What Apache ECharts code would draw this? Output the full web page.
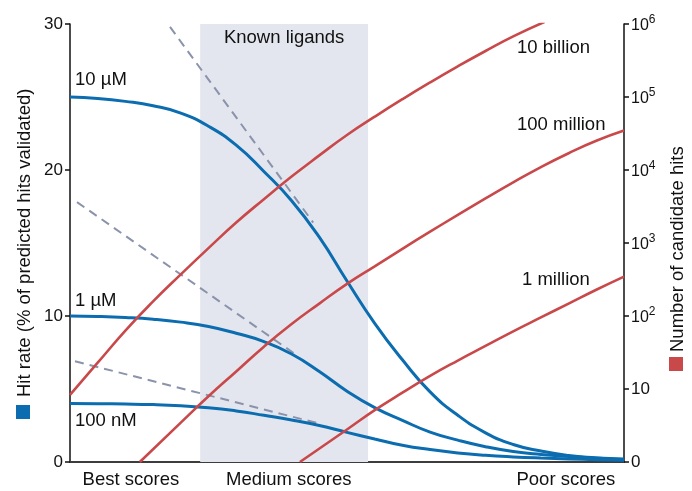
<!DOCTYPE html>
<html>
<head>
<meta charset="utf-8">
<script src="https://cdn.jsdelivr.net/npm/echarts@6/dist/echarts.min.js"></script>
<style>
html, body { margin: 0; padding: 0; background: #fff; }
#chart { width: 692px; height: 491px; }
</style>
</head>
<body>
<div id="chart"></div>
<script>
// Score axis runs from 0 (best scores) to 100 (poor scores)
const scoreTicks = [11, 39.5, 89.5];
const scoreLabels = ['Best scores', 'Medium scores', 'Poor scores'];

// Score band where known ligands fall
const knownLigands = [23.5, 53.8];

// Hit rate (%) sampled every 5 score units, one curve per affinity threshold
const scoreSteps = [0, 5, 10, 15, 20, 25, 30, 35, 40, 45, 50, 55, 60, 65, 70, 75, 80, 85, 90, 95, 100];
const hit10uM = [25.0, 24.9, 24.7, 24.4, 23.9, 23.0, 21.7, 19.9, 17.9, 15.4, 12.4, 9.5, 7.0, 4.8, 3.2, 2.0, 1.2, 0.75, 0.45, 0.28, 0.15];
const hit1uM = [10.0, 9.97, 9.9, 9.78, 9.58, 9.28, 8.82, 8.25, 7.4, 6.2, 4.85, 3.72, 2.85, 2.05, 1.5, 1.05, 0.72, 0.52, 0.38, 0.27, 0.2];
const hit100nM = [4.0, 3.99, 3.97, 3.93, 3.85, 3.72, 3.5, 3.2, 2.88, 2.5, 2.03, 1.58, 1.15, 0.85, 0.62, 0.46, 0.35, 0.27, 0.21, 0.16, 0.12];

// Straight-line extrapolations of the hit-rate curves
const trend10uM = [[18.05, 29.8], [43.9, 16.4]];
const trend1uM = [[1.26, 17.8], [40.6, 7.4]];
const trend100nM = [[0.9, 6.9], [44.6, 2.67]];

// log10(number of candidate hits) for each library size
const lib10B = [[0, 0.92], [5, 1.36], [10, 1.8], [15, 2.2], [20, 2.57], [25, 2.93], [30, 3.28], [35, 3.6],
  [40, 3.91], [45, 4.2], [50, 4.48], [55, 4.73], [60, 4.97], [65, 5.2], [70, 5.42], [75, 5.63], [80, 5.83], [85.7, 6.03]];
const lib100M = [[12.6, 0], [20, 0.54], [25, 0.9], [30, 1.24], [35, 1.58], [40, 1.89], [45, 2.17], [50, 2.44],
  [55, 2.68], [60, 2.92], [65, 3.155], [70, 3.385], [75, 3.61], [80, 3.83], [85, 4.04], [90, 4.23], [95, 4.4], [100, 4.54]];
const lib1M = [[41.5, 0], [50, 0.445], [55, 0.71], [60, 0.95], [65, 1.18], [70, 1.39], [75, 1.59], [80, 1.79],
  [85, 1.98], [90, 2.17], [95, 2.36], [100, 2.54]];

const FONT = '"Liberation Sans", Arial, Helvetica, sans-serif';
const BLUE = '#0b6db0';
const RED = '#c9494b';
const DASH = '#8a93ab';
const INK = '#111';

function hitLine(values) {
  return {
    type: 'line', data: scoreSteps.map((s, i) => [s, values[i]]), symbol: 'none', smooth: 0.5, z: 3,
    lineStyle: { color: BLUE, width: 3 }
  };
}
function trendLine(data) {
  return {
    type: 'line', data, symbol: 'none', z: 2,
    lineStyle: { color: DASH, width: 2, type: [9, 6] }
  };
}
function libLine(data) {
  return {
    type: 'line', yAxisIndex: 1, data, symbol: 'none', smooth: 0.5, z: 4,
    lineStyle: { color: RED, width: 2.6 }
  };
}
function text(x, y, str, extra) {
  return Object.assign({
    type: 'text', x, y, silent: true,
    style: { text: str, fontSize: 18.5, fontFamily: FONT, fill: INK, align: 'left', verticalAlign: 'middle' }
  }, extra || {});
}

const chart = echarts.init(document.getElementById('chart'), null, { renderer: 'canvas' });
chart.setOption({
  animation: false,
  textStyle: { fontFamily: FONT },
  grid: { left: 70, right: 68, top: 24, bottom: 29 },
  xAxis: {
    type: 'value', min: 0, max: 100, interval: 0.5,
    axisLine: { show: true, lineStyle: { color: '#3c3c3c', width: 2 } },
    axisTick: { show: false },
    splitLine: { show: false },
    axisLabel: {
      margin: 8, fontSize: 18.5, color: INK, fontFamily: FONT,
      formatter: v => { const i = scoreTicks.indexOf(v); return i >= 0 ? scoreLabels[i] : ''; }
    }
  },
  yAxis: [{
    type: 'value', min: 0, max: 30, interval: 10, position: 'left',
    axisLine: { show: true, lineStyle: { color: '#111', width: 1.5 } },
    axisTick: { show: true, length: 5, lineStyle: { color: '#111', width: 1.5 } },
    splitLine: { show: false },
    axisLabel: { margin: 7, fontSize: 17, color: INK, fontFamily: FONT }
  }, {
    type: 'value', min: 0, max: 6, interval: 1, position: 'right',
    axisLine: { show: true, lineStyle: { color: '#111', width: 1.5 } },
    axisTick: { show: true, length: 5, lineStyle: { color: '#111', width: 1.5 } },
    splitLine: { show: false },
    axisLabel: {
      margin: 7, color: INK, fontFamily: FONT,
      formatter: v => v === 0 ? '{n|0}' : (v === 1 ? '{n|10}' : '{b|10}{s|' + v + '}'),
      rich: {
        n: { fontSize: 17, fontFamily: FONT, color: INK },
        b: { fontSize: 16, fontFamily: FONT, color: INK, verticalAlign: 'bottom' },
        s: { fontSize: 12, fontFamily: FONT, color: INK, verticalAlign: 'bottom', padding: [0, 0, 8, 0] }
      }
    }
  }],
  series: [
    {
      type: 'line', data: [], z: 1, silent: true,
      markArea: {
        silent: true,
        itemStyle: { color: '#e3e6ee' },
        label: { show: true, position: 'insideTop', distance: 4, fontSize: 18.5, color: INK, fontFamily: FONT },
        data: [[{ name: 'Known ligands', xAxis: knownLigands[0], yAxis: 0 }, { xAxis: knownLigands[1], yAxis: 30 }]]
      }
    },
    trendLine(trend10uM), trendLine(trend1uM), trendLine(trend100nM),
    hitLine(hit10uM), hitLine(hit1uM), hitLine(hit100nM),
    libLine(lib10B), libLine(lib100M), libLine(lib1M)
  ],
  graphic: [
    text(75, 80, '10 µM'),
    text(75, 301, '1 µM'),
    text(75, 421, '100 nM'),
    text(517, 48, '10 billion'),
    text(517, 125, '100 million'),
    text(522, 280, '1 million'),
    text(24.5, 397, 'Hit rate (% of predicted hits validated)', { rotation: Math.PI / 2 }),
    { type: 'rect', shape: { x: 16, y: 405, width: 14, height: 14 }, style: { fill: BLUE }, silent: true },
    text(677.5, 352, 'Number of candidate hits', { rotation: Math.PI / 2 }),
    { type: 'rect', shape: { x: 669, y: 357, width: 14, height: 14 }, style: { fill: RED }, silent: true }
  ]
});
</script>
</body>
</html>
